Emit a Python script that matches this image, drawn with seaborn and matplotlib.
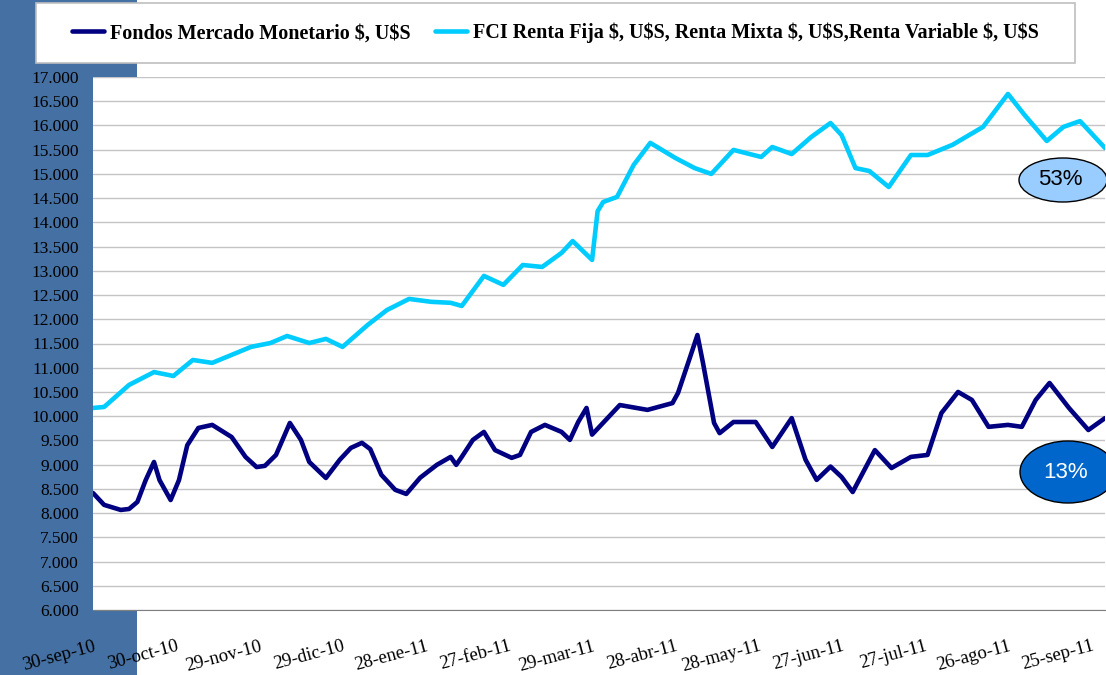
import pandas as pd
import matplotlib
matplotlib.use("Agg")
import matplotlib.pyplot as plt
from matplotlib.patches import Rectangle, Ellipse
from matplotlib.ticker import FuncFormatter, MultipleLocator
from matplotlib.transforms import ScaledTranslation
import seaborn as sns

# ---- data (days counted from 30-sep-2010) ----
start = pd.Timestamp("2010-09-30")

mm_days = [0, 4, 10, 13, 16, 19, 22, 24, 28, 31, 34, 38, 43, 50, 55, 59, 62, 66,
           71, 75, 78, 84, 89, 93, 97, 100, 104, 109, 113, 118, 124, 129, 131,
           133, 137, 141, 145, 151, 154, 158, 163, 169, 172, 175, 178, 180, 190,
           200, 209, 211, 215, 218, 220, 224, 226, 231, 239, 245, 252, 257, 261,
           266, 270, 274, 282, 288, 295, 301, 306, 312, 317, 323, 330, 335, 340,
           345, 352, 359, 365]
mm_vals = [8415, 8170, 8065, 8085, 8230, 8680, 9055, 8680, 8270, 8680, 9400, 9757,
           9820, 9570, 9160, 8950, 8975, 9200, 9860, 9510, 9055, 8725, 9100, 9345,
           9450, 9320, 8790, 8480, 8395, 8730, 8995, 9160, 8995, 9160, 9510, 9675,
           9300, 9140, 9200, 9675, 9820, 9675, 9510, 9880, 10170, 9620, 10230,
           10130, 10270, 10480, 11160, 11675, 11100, 9860, 9650, 9880, 9880, 9365,
           9960, 9100, 8685, 8960, 8745, 8435, 9300, 8930, 9160, 9200, 10065,
           10500, 10335, 9780, 9820, 9780, 10335, 10685, 10170, 9715, 9960]

fci_days = [0, 4, 13, 22, 29, 36, 43, 50, 57, 64, 70, 78, 84, 90, 99, 106, 114,
            122, 129, 133, 141, 148, 155, 162, 169, 173, 180, 182, 184, 189, 195,
            201, 210, 217, 223, 231, 241, 245, 252, 259, 266, 270, 275, 280, 287,
            295, 301, 310, 321, 330, 336, 344, 350, 356, 365]
fci_vals = [10170, 10190, 10645, 10910, 10830, 11160, 11100, 11265, 11430, 11510,
            11655, 11510, 11595, 11430, 11880, 12190, 12420, 12360, 12340, 12275,
            12895, 12710, 13120, 13080, 13370, 13615, 13225, 14230, 14420, 14525,
            15185, 15640, 15330, 15120, 15000, 15495, 15350, 15555, 15410, 15760,
            16050, 15800, 15120, 15060, 14730, 15390, 15390, 15600, 15970, 16650,
            16215, 15680, 15970, 16090, 15535]

tick_labels = ["30-sep-10", "30-oct-10", "29-nov-10", "29-dic-10", "28-ene-11",
               "27-feb-11", "29-mar-11", "28-abr-11", "28-may-11", "27-jun-11",
               "27-jul-11", "26-ago-11", "25-sep-11"]
label_mm = "Fondos Mercado Monetario \\$, U\\$S"
label_fci = "FCI Renta Fija \\$, U\\$S, Renta Mixta \\$, U\\$S,Renta Variable \\$, U\\$S"
pct_fci, pct_mm = "53%", "13%"

mm = pd.DataFrame({"fecha": start + pd.to_timedelta(mm_days, unit="D"), "valor": mm_vals})
fci = pd.DataFrame({"fecha": start + pd.to_timedelta(fci_days, unit="D"), "valor": fci_vals})

# ---- plot ----
sns.set_style("white")
plt.rcParams["font.family"] = ["Liberation Serif", "DejaVu Serif"]

W, H = 1106, 675
fig = plt.figure(figsize=(W / 100, H / 100), dpi=100)
fig.patch.set_facecolor("white")
fig.patches.append(Rectangle((0, 0), 137 / W, 1, transform=fig.transFigure,
                             facecolor="#4570A3", edgecolor="none", zorder=0))

ax = fig.add_axes([93 / W, 1 - 610 / H, (1105 - 93) / W, (610 - 77) / H])
ax.set_facecolor("white")
ax.set_zorder(1)

line_kw = dict(lw=3.3, solid_joinstyle="round", solid_capstyle="round")
sns.lineplot(data=mm, x="fecha", y="valor", ax=ax, color="#000080",
             label=label_mm, legend=False, **line_kw)
sns.lineplot(data=fci, x="fecha", y="valor", ax=ax, color="#00CCFF",
             label=label_fci, legend=False, **line_kw)

ax.set_ylim(6000, 17000)
ax.yaxis.set_major_locator(MultipleLocator(500))
ax.yaxis.set_major_formatter(FuncFormatter(lambda v, p: f"{v:,.0f}".replace(",", ".")))
ax.grid(axis="y", color="#C4C4C4", lw=1)
ax.set_axisbelow(True)

ticks = [start + pd.Timedelta(days=30 * i) for i in range(len(tick_labels))]
ax.set_xlim(start, start + pd.Timedelta(days=365))
ax.set_xticks(ticks)
ax.set_xticklabels(tick_labels, rotation=15, ha="right", va="top",
                   rotation_mode="anchor")
shift = ScaledTranslation(-6 / 100, 0, fig.dpi_scale_trans)
for lab in ax.get_xticklabels():
    lab.set_transform(lab.get_transform() + shift)
ax.set_xlabel("")
ax.set_ylabel("")

for s in ["top", "right", "left"]:
    ax.spines[s].set_visible(False)
ax.spines["bottom"].set_color("#7F7F7F")
ax.tick_params(axis="x", direction="out", length=6, color="#404040",
               labelsize=13.5, pad=14, labelcolor="black")
ax.tick_params(axis="y", length=0, labelsize=12.5, pad=10, labelcolor="black")

# percentage bubbles
for (cx, cy, w, h, fc, tc, txt) in [(1063, 180, 88, 44, "#99CCFF", "black", pct_fci),
                                     (1068, 472, 96, 62, "#0066CC", "white", pct_mm)]:
    e = Ellipse((cx / W, 1 - cy / H), w / W, h / H, transform=fig.transFigure,
                facecolor=fc, edgecolor="black", lw=1, zorder=5)
    fig.patches.append(e)
    fig.text(cx / W - 0.002, 1 - cy / H, txt, ha="center", va="center",
             fontsize=16, color=tc, family=["Liberation Sans", "DejaVu Sans"], zorder=6)

# legend box
fig.patches.append(Rectangle((36 / W, 1 - 63 / H), (1075 - 36) / W, 60 / H,
                             transform=fig.transFigure, facecolor="white",
                             edgecolor="#BFBFBF", lw=1.2, zorder=8))
handles, labels = ax.get_legend_handles_labels()
leg = fig.legend(handles, labels, loc="center", ncol=2,
                 bbox_to_anchor=((36 + 1075) / 2 / W, 1 - 33 / H),
                 frameon=False, handlelength=1.6, handletextpad=0.3,
                 columnspacing=1.2, prop={"weight": "bold", "size": 14.5})
for t in leg.get_texts():
    t.set_color("black")
leg.set_zorder(10)

fig.savefig("out.png", dpi=100)
